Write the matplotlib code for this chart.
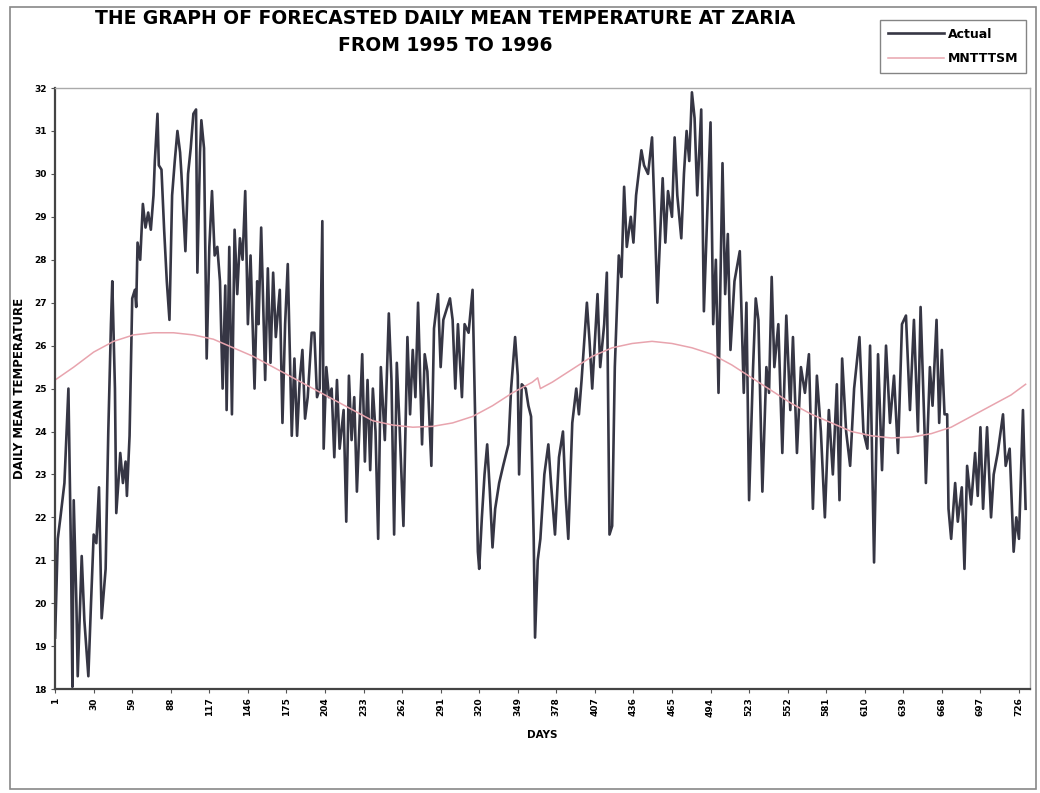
import matplotlib.pyplot as plt
from matplotlib.patches import Rectangle

# === data ===
actual_days = [
    1, 3, 5, 8, 11, 13, 14, 15, 17, 18, 21, 23, 26, 28, 30, 32, 34, 36, 39, 41,
    43, 44, 46, 47, 49, 50, 52, 54, 55, 57, 58, 59, 61, 62, 63, 65, 67, 69, 71, 73,
    75, 76, 78, 79, 81, 83, 85, 87, 89, 91, 93, 95, 96, 99, 101, 103, 105, 107, 108, 110,
    111, 113, 115, 117, 119, 121, 123, 125, 127, 129, 130, 132, 134, 136, 138, 140, 142, 144, 146, 148,
    151, 153, 154, 156, 159, 161, 163, 165, 167, 170, 172, 174, 176, 179, 181, 183, 185, 187, 189, 191,
    194, 196, 198, 200, 202, 203, 205, 207, 209, 211, 213, 215, 218, 220, 222, 224, 226, 228, 230, 232,
    234, 236, 238, 240, 242, 244, 246, 249, 252, 254, 256, 258, 260, 263, 266, 268, 270, 272, 274, 277,
    279, 281, 284, 286, 289, 291, 293, 295, 298, 300, 302, 304, 307, 309, 312, 315, 317, 319, 320, 322,
    324, 326, 328, 330, 332, 335, 338, 342, 344, 347, 349, 350, 352, 355, 357, 359, 361, 362, 364, 366,
    369, 372, 374, 377, 380, 383, 385, 387, 390, 393, 395, 397, 401, 403, 405, 409, 411, 414, 416, 418,
    420, 422, 425, 427, 429, 431, 434, 436, 438, 442, 444, 447, 450, 452, 454, 456, 458, 460, 462, 465,
    467, 469, 472, 474, 476, 478, 480, 482, 484, 487, 489, 492, 494, 496, 498, 500, 503, 505, 507, 509,
    512, 516, 519, 521, 523, 526, 528, 530, 533, 536, 538, 540, 542, 545, 548, 551, 554, 556, 559, 562,
    565, 568, 571, 574, 577, 580, 583, 586, 589, 591, 593, 596, 599, 602, 606, 609, 612, 614, 617, 620,
    623, 626, 629, 632, 635, 638, 641, 644, 647, 650, 652, 655, 656, 659, 661, 664, 666, 668, 670, 672,
    673, 675, 678, 680, 683, 685, 687, 690, 693, 695, 697, 699, 702, 705, 707, 710, 714, 716, 719, 722,
    724, 726, 729, 731,
]
actual_temp = [
    19.2, 21.5, 22.0, 22.8, 25.0, 21.0, 18.05, 22.4, 20.0, 18.3, 21.1, 19.6, 18.3, 20.0, 21.6, 21.4, 22.7, 19.65, 20.8, 24.0,
    26.5, 27.5, 25.0, 22.1, 23.0, 23.5, 22.8, 23.3, 22.5, 23.9, 25.5, 27.1, 27.3, 26.9, 28.4, 28.0, 29.3, 28.75, 29.1, 28.7,
    29.5, 30.3, 31.4, 30.2, 30.1, 28.7, 27.5, 26.6, 29.5, 30.3, 31.0, 30.5, 30.0, 28.2, 30.0, 30.6, 31.4, 31.5, 27.7, 30.5,
    31.25, 30.6, 25.7, 28.3, 29.6, 28.1, 28.3, 27.5, 25.0, 27.4, 24.5, 28.3, 24.4, 28.7, 27.2, 28.5, 28.0, 29.6, 26.5, 28.1,
    25.0, 27.5, 26.5, 28.75, 25.2, 27.8, 25.6, 27.7, 26.2, 27.3, 24.2, 26.5, 27.9, 23.9, 25.7, 23.9, 25.2, 25.9, 24.3, 24.8,
    26.3, 26.3, 24.8, 25.0, 28.9, 23.6, 25.5, 24.8, 25.0, 23.4, 25.2, 23.6, 24.5, 21.9, 25.3, 23.8, 24.8, 22.6, 24.2, 25.8,
    23.3, 25.2, 23.1, 25.0, 24.0, 21.5, 25.5, 23.8, 26.75, 25.2, 21.6, 25.6, 24.2, 21.8, 26.2, 24.4, 25.9, 24.8, 27.0, 23.7,
    25.8, 25.4, 23.2, 26.4, 27.2, 25.5, 26.6, 26.8, 27.1, 26.6, 25.0, 26.5, 24.8, 26.5, 26.3, 27.3, 24.3, 21.2, 20.8, 22.0,
    23.0, 23.7, 22.6, 21.3, 22.2, 22.8, 23.2, 23.7, 25.0, 26.2, 25.3, 23.0, 25.1, 25.0, 24.6, 24.35, 21.5, 19.2, 21.0, 21.5,
    23.0, 23.7, 22.8, 21.6, 23.4, 24.0, 22.5, 21.5, 24.2, 25.0, 24.4, 25.2, 27.0, 26.1, 25.0, 27.2, 25.5, 26.5, 27.7, 21.6,
    21.8, 25.5, 28.1, 27.6, 29.7, 28.3, 29.0, 28.4, 29.5, 30.55, 30.2, 30.0, 30.85, 29.0, 27.0, 28.5, 29.9, 28.4, 29.6, 29.0,
    30.85, 29.5, 28.5, 30.0, 31.0, 30.3, 31.9, 31.3, 29.5, 31.5, 26.8, 29.5, 31.2, 26.5, 28.0, 24.9, 30.25, 27.2, 28.6, 25.9,
    27.5, 28.2, 24.9, 27.0, 22.4, 25.5, 27.1, 26.6, 22.6, 25.5, 24.9, 27.6, 25.5, 26.5, 23.5, 26.7, 24.5, 26.2, 23.5, 25.5,
    24.9, 25.8, 22.2, 25.3, 24.0, 22.0, 24.5, 23.0, 25.1, 22.4, 25.7, 24.0, 23.2, 25.0, 26.2, 24.0, 23.6, 26.0, 20.95, 25.8,
    23.1, 26.0, 24.2, 25.3, 23.5, 26.5, 26.7, 24.5, 26.6, 24.0, 26.9, 24.0, 22.8, 25.5, 24.6, 26.6, 24.2, 25.9, 24.4, 24.4,
    22.2, 21.5, 22.8, 21.9, 22.7, 20.8, 23.2, 22.3, 23.5, 22.5, 24.1, 22.2, 24.1, 22.0, 23.0, 23.5, 24.4, 23.2, 23.6, 21.2,
    22.0, 21.5, 24.5, 22.2,
]

model_days = [1, 15, 30, 45, 60, 75, 90, 105, 120, 135, 150, 165, 180, 195, 210, 225, 240, 255,
              270, 285, 300, 315, 330, 345, 360, 364, 366, 375, 390, 405, 420, 435, 450, 465,
              480, 495, 510, 525, 540, 555, 570, 585, 600, 615, 630, 645, 660, 675, 690, 705,
              720, 731]
model_temp = [25.2, 25.5, 25.85, 26.1, 26.25, 26.3, 26.3, 26.25, 26.15, 25.95, 25.75, 25.5, 25.25,
              25.0, 24.75, 24.5, 24.25, 24.15, 24.1, 24.12, 24.2, 24.35, 24.6, 24.9, 25.15, 25.25,
              25.0, 25.15, 25.45, 25.75, 25.95, 26.05, 26.1, 26.05, 25.95, 25.8, 25.55, 25.25, 24.95,
              24.65, 24.4, 24.2, 24.0, 23.9, 23.85, 23.87, 23.95, 24.1, 24.35, 24.6, 24.85, 25.1]

x_ticks = [1, 30, 59, 88, 117, 146, 175, 204, 233, 262, 291, 320, 349, 378, 407, 436, 465,
           494, 523, 552, 581, 610, 639, 668, 697, 726]
y_ticks = list(range(18, 33))

# === plot ===
fig = plt.figure(figsize=(10.4, 7.93), dpi=100)
ax = fig.add_axes([0.053, 0.131, 0.937, 0.758])

ax.plot(actual_days, actual_temp, color="#363644", linewidth=1.9, label="Actual")
ax.plot(model_days, model_temp, color="#e8a4ae", linewidth=1.1, label="MNTTTSM")

ax.set_xlim(1, 734)
ax.set_ylim(18, 32)
ax.set_xticks(x_ticks)
ax.set_xticklabels([str(t) for t in x_ticks], rotation=90, fontsize=6.5, fontweight="bold")
ax.set_yticks(y_ticks)
ax.set_yticklabels([str(t) for t in y_ticks], fontsize=6.5, fontweight="bold")
ax.tick_params(length=3, color="#555555", pad=3)

for side in ["left", "bottom"]:
    ax.spines[side].set_color("#444444")
    ax.spines[side].set_linewidth(1.6)
for side in ["top", "right"]:
    ax.spines[side].set_color("#aaaaaa")
    ax.spines[side].set_linewidth(1.0)

ax.set_xlabel("DAYS", fontsize=7.5, fontweight="bold", labelpad=10)
ax.set_ylabel("DAILY MEAN TEMPERATURE", fontsize=8.5, fontweight="bold", labelpad=6)

title_kw = dict(ha="center", va="center", fontsize=13.5, fontweight="bold")
fig.text(0.428, 0.977, "THE GRAPH OF FORECASTED DAILY MEAN TEMPERATURE AT ZARIA", **title_kw)
fig.text(0.428, 0.943, "FROM 1995 TO 1996", **title_kw)

leg = fig.legend(loc="upper right", bbox_to_anchor=(1032 / 1040, 1 - 14 / 793),
                 fancybox=False, edgecolor="#666666", handlelength=4.5,
                 borderpad=0.6, labelspacing=0.9, handletextpad=0.3,
                 prop={"size": 9, "weight": "bold"})
leg.get_frame().set_linewidth(1.0)

# outer chart border
fig.patches.append(Rectangle((10 / 1040, 4 / 793), 1026 / 1040, 782 / 793,
                             transform=fig.transFigure, fill=False,
                             edgecolor="#888888", linewidth=1.2))

fig.savefig("out.png", dpi=100)
